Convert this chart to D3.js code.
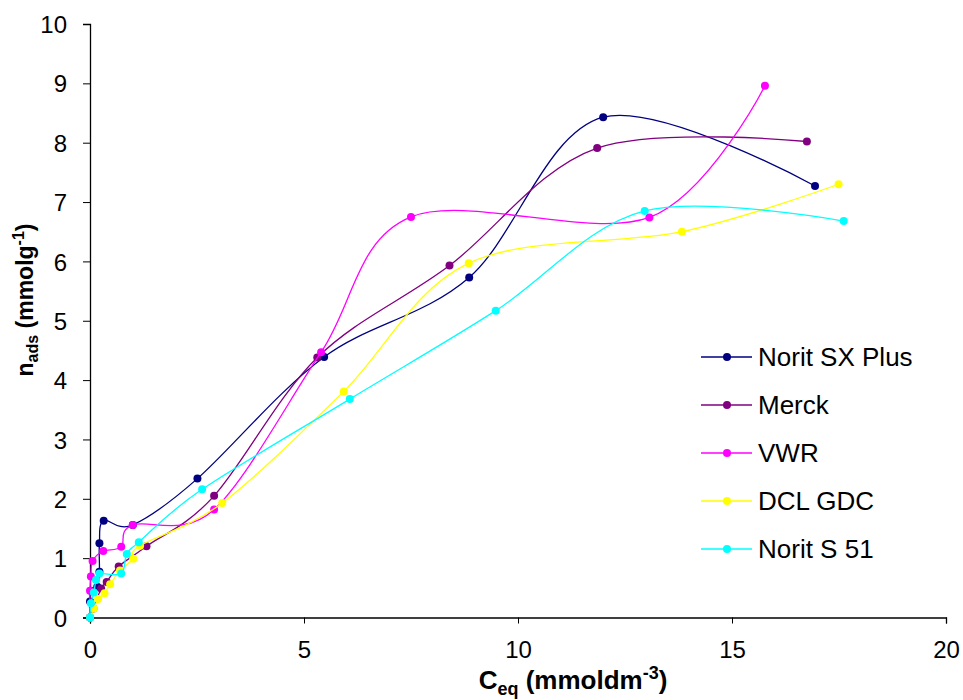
<!DOCTYPE html>
<html>
<head>
<meta charset="utf-8">
<script src="https://cdn.jsdelivr.net/npm/d3@7"></script>
<style>
  html, body { margin: 0; padding: 0; background: #fff; }
  svg { display: block; font-family: "Liberation Sans", Arial, sans-serif; }
</style>
</head>
<body>
<svg id="chart" width="963" height="700"></svg>
<script>
// ---- Data ----
const seriesNames = ["Norit SX Plus", "Merck", "VWR", "DCL GDC", "Norit S 51"];
const seriesColors = ["#000080", "#800080", "#FF00FF", "#FFFF00", "#00FFFF"];

const noritSXPlusX = [0, 0.00, 0.02, 0.17, 0.22, 0.22, 0.32, 1.00, 2.51, 5.47, 8.86, 11.99, 16.94];
const noritSXPlusY = [0, 0.27, 0.45, 0.52, 0.77, 1.25, 1.63, 1.56, 2.34, 4.39, 5.73, 8.43, 7.27];

const merckX = [0, 0.08, 0.26, 0.39, 0.67, 1.32, 2.90, 5.31, 8.40, 11.85, 16.75];
const merckY = [0, 0.15, 0.49, 0.60, 0.86, 1.20, 2.05, 4.38, 5.93, 7.91, 8.02];

const vwrX = [0, 0.00, 0.02, 0.06, 0.31, 0.73, 1.00, 2.90, 5.40, 7.50, 13.07, 15.77];
const vwrY = [0, 0.45, 0.69, 0.95, 1.12, 1.19, 1.56, 1.82, 4.47, 6.75, 6.74, 8.96];

const dclGdcX = [0, 0.09, 0.19, 0.34, 0.47, 0.70, 1.01, 1.17, 3.09, 5.93, 8.85, 13.83, 17.49];
const dclGdcY = [0, 0.15, 0.31, 0.41, 0.56, 0.79, 0.99, 1.21, 1.93, 3.81, 5.97, 6.50, 7.30];

const noritS51X = [0, 0.02, 0.09, 0.14, 0.22, 0.73, 0.86, 1.14, 2.62, 6.07, 9.48, 12.96, 17.61];
const noritS51Y = [0, 0.24, 0.42, 0.63, 0.74, 0.74, 1.07, 1.27, 2.16, 3.68, 5.17, 6.85, 6.68];

const xTicks = [0, 5, 10, 15, 20];
const yTicks = [0, 1, 2, 3, 4, 5, 6, 7, 8, 9, 10];

const seriesX = [noritSXPlusX, merckX, vwrX, dclGdcX, noritS51X];
const seriesY = [noritSXPlusY, merckY, vwrY, dclGdcY, noritS51Y];

// ---- Layout ----
const svg = d3.select("#chart");
const plotLeft = 90, plotRight = 946, plotTop = 24, plotBottom = 617.5;

const x = d3.scaleLinear().domain([0, 20]).range([plotLeft, plotRight]);
const y = d3.scaleLinear().domain([0, 10]).range([plotBottom, plotTop]);

// Axes
const xAxis = svg.append("g")
  .attr("transform", `translate(0,${plotBottom})`)
  .call(d3.axisBottom(x).tickValues(xTicks).tickSize(6).tickPadding(17).tickFormat(d3.format("d")));
const yAxis = svg.append("g")
  .attr("transform", `translate(${plotLeft},0)`)
  .call(d3.axisLeft(y).tickValues(yTicks).tickSize(7).tickPadding(16).tickFormat(d3.format("d")));

[xAxis, yAxis].forEach(g => {
  g.select(".domain").attr("stroke", "#000").attr("stroke-width", 1.3);
  g.selectAll(".tick line").attr("stroke", "#000").attr("stroke-width", 1);
  g.selectAll(".tick text").attr("fill", "#000").style("font-size", "24px")
    .style("font-family", "'Liberation Sans', Arial, sans-serif");
});
yAxis.selectAll(".tick text").attr("dy", "0.36em");

// Series
const line = d3.line().curve(d3.curveCardinal.tension(0)).x(d => x(d[0])).y(d => y(d[1]));

seriesNames.forEach((name, i) => {
  const pts = seriesX[i].map((v, j) => [v, seriesY[i][j]]);
  const g = svg.append("g");
  g.append("path").datum(pts)
    .attr("d", line)
    .attr("fill", "none")
    .attr("stroke", seriesColors[i])
    .attr("stroke-width", 1.3);
  g.selectAll("circle").data(pts).enter().append("circle")
    .attr("cx", d => x(d[0])).attr("cy", d => y(d[1]))
    .attr("r", 4)
    .attr("fill", seriesColors[i]);
});

// Legend
const legend = svg.append("g");
seriesNames.forEach((name, i) => {
  const ly = 357 + i * 48;
  legend.append("line").attr("x1", 701).attr("x2", 752).attr("y1", ly).attr("y2", ly)
    .attr("stroke", seriesColors[i]).attr("stroke-width", 1.3);
  legend.append("circle").attr("cx", 727).attr("cy", ly).attr("r", 4).attr("fill", seriesColors[i]);
  legend.append("text").attr("x", 758).attr("y", ly).attr("dy", "0.36em")
    .style("font-size", "26px").attr("fill", "#000").text(name);
});

// Axis titles
const xt = svg.append("text").attr("x", 573).attr("y", 689).attr("text-anchor", "middle")
  .style("font-size", "26px").style("font-weight", "bold").attr("fill", "#000");
xt.append("tspan").text("C");
xt.append("tspan").attr("dy", 6).style("font-size", "18px").text("eq");
xt.append("tspan").attr("dy", -6).text(" (mmoldm");
xt.append("tspan").attr("dy", -10).style("font-size", "18px").text("-3");
xt.append("tspan").attr("dy", 10).text(")");

const yt = svg.append("text").attr("transform", "translate(33,300) rotate(-90)").attr("text-anchor", "middle")
  .style("font-size", "23px").style("font-weight", "bold").attr("fill", "#000");
yt.append("tspan").text("n");
yt.append("tspan").attr("dy", 5).style("font-size", "16px").text("ads");
yt.append("tspan").attr("dy", -5).text(" (mmolg");
yt.append("tspan").attr("dy", -9).style("font-size", "16px").text("-1");
yt.append("tspan").attr("dy", 9).text(")");
</script>
</body>
</html>
